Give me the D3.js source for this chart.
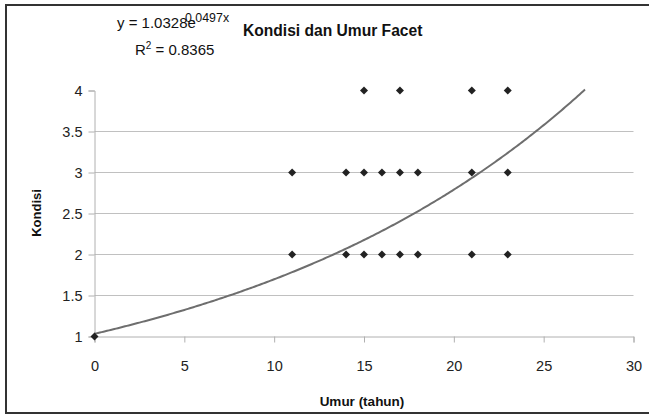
<!DOCTYPE html>
<html>
<head>
<meta charset="utf-8">
<script src="https://cdn.jsdelivr.net/npm/d3@7"></script>
<style>
  body { margin: 0; background: #fff; }
  svg { font-family: "Liberation Sans", Arial, sans-serif; }
</style>
</head>
<body>
<script>
// observed points (umur, kondisi)
var umur    = [0, 11, 11, 14, 14, 15, 15, 15, 16, 16, 17, 17, 17, 18, 18, 21, 21, 21, 23, 23, 23];
var kondisi = [1, 2,  3,  2,  3,  2,  3,  4,  2,  3,  2,  3,  4,  2,  3,  2,  3,  4,  2,  3,  4];

// exponential trendline as printed on the chart
var trendA = 1.0328, trendB = 0.0497;
var trendEnd = 27.3;

var xTicks = [0, 5, 10, 15, 20, 25, 30];
var yTicks = [1, 1.5, 2, 2.5, 3, 3.5, 4];

var W = 649, H = 415;
var svg = d3.select( "body" ).append( "svg" )
  .attr( "width", W )
  .attr( "height", H );

// outer chart border (right side runs off the picture)
svg.append( "rect" )
  .attr( "x", 6 ).attr( "y", 5 )
  .attr( "width", W + 10 ).attr( "height", 408 )
  .attr( "fill", "none" )
  .attr( "stroke", "#333" )
  .attr( "stroke-width", 2 );

var x = d3.scaleLinear().domain( [0, 30] ).range( [94.5, 633.5] );
var y = d3.scaleLinear().domain( [1, 4] ).range( [336.5, 90.5] );

// gridlines (none on the top value)
svg.append( "g" ).selectAll( "line" )
  .data( yTicks.filter( function ( d ) { return d > 1 && d < 4; } ) )
  .enter().append( "line" )
  .attr( "x1", x( 0 ) ).attr( "x2", x( 30 ) )
  .attr( "y1", function ( d ) { return y( d ); } )
  .attr( "y2", function ( d ) { return y( d ); } )
  .attr( "stroke", "#c0c0c0" )
  .attr( "stroke-width", 1 );

var xAxis = svg.append( "g" )
  .attr( "transform", "translate(0," + y( 1 ) + ")" )
  .call( d3.axisBottom( x ).tickValues( xTicks ).tickSize( 6 ).tickPadding( 18 ) );

var yAxis = svg.append( "g" )
  .attr( "transform", "translate(" + x( 0 ) + ",0)" )
  .call( d3.axisLeft( y ).tickValues( yTicks ).tickSize( 6 ).tickPadding( 6 )
    .tickFormat( d3.format( "" ) ) );

[xAxis, yAxis].forEach( function ( g ) {
  g.select( ".domain" ).attr( "stroke", "#b0b0b0" );
  g.selectAll( ".tick line" ).attr( "stroke", "#b0b0b0" );
  g.selectAll( ".tick text" )
    .attr( "fill", "#222" )
    .attr( "font-size", 14.5 )
    .attr( "font-family", "Liberation Sans, Arial, sans-serif" );
} );

// trendline
var trendX = d3.range( 0, trendEnd + 0.001, 0.1 );
var line = d3.line()
  .x( function ( d ) { return x( d ); } )
  .y( function ( d ) { return y( trendA * Math.exp( trendB * d ) ); } );

svg.append( "path" )
  .datum( trendX )
  .attr( "d", line )
  .attr( "fill", "none" )
  .attr( "stroke", "#6e6e6e" )
  .attr( "stroke-width", 2 );

// diamond markers
svg.append( "g" ).selectAll( "path" )
  .data( umur )
  .enter().append( "path" )
  .attr( "d", "M0,-4L4,0L0,4L-4,0Z" )
  .attr( "transform", function ( d, i ) {
    return "translate(" + x( d ) + "," + y( kondisi[i] ) + ")";
  } )
  .attr( "fill", "#222" );

// texts
svg.append( "text" )
  .attr( "x", 243 ).attr( "y", 36 )
  .attr( "font-size", 15.6 ).attr( "font-weight", "bold" )
  .attr( "fill", "#111" )
  .text( "Kondisi dan Umur Facet" );

var eq = svg.append( "text" )
  .attr( "x", 117 ).attr( "y", 28 )
  .attr( "font-size", 15 ).attr( "fill", "#111" );
eq.append( "tspan" ).text( "y = 1.0328e" );
eq.append( "tspan" )
  .attr( "x", 185 ).attr( "dy", -6 )
  .attr( "font-size", 12.4 )
  .text( "0.0497x" );

var r2 = svg.append( "text" )
  .attr( "x", 135 ).attr( "y", 55 )
  .attr( "font-size", 15 ).attr( "fill", "#111" );
r2.append( "tspan" ).text( "R" );
r2.append( "tspan" ).attr( "dy", -6 ).attr( "font-size", 10 ).text( "2" );
r2.append( "tspan" ).attr( "dy", 6 ).text( " = 0.8365" );

svg.append( "text" )
  .attr( "x", 362 ).attr( "y", 406 )
  .attr( "text-anchor", "middle" )
  .attr( "font-size", 13.5 ).attr( "font-weight", "bold" )
  .attr( "fill", "#111" )
  .text( "Umur (tahun)" );

svg.append( "text" )
  .attr( "transform", "translate(41,213) rotate(-90)" )
  .attr( "text-anchor", "middle" )
  .attr( "font-size", 13 ).attr( "font-weight", "bold" )
  .attr( "fill", "#111" )
  .text( "Kondisi" );
</script>
</body>
</html>
